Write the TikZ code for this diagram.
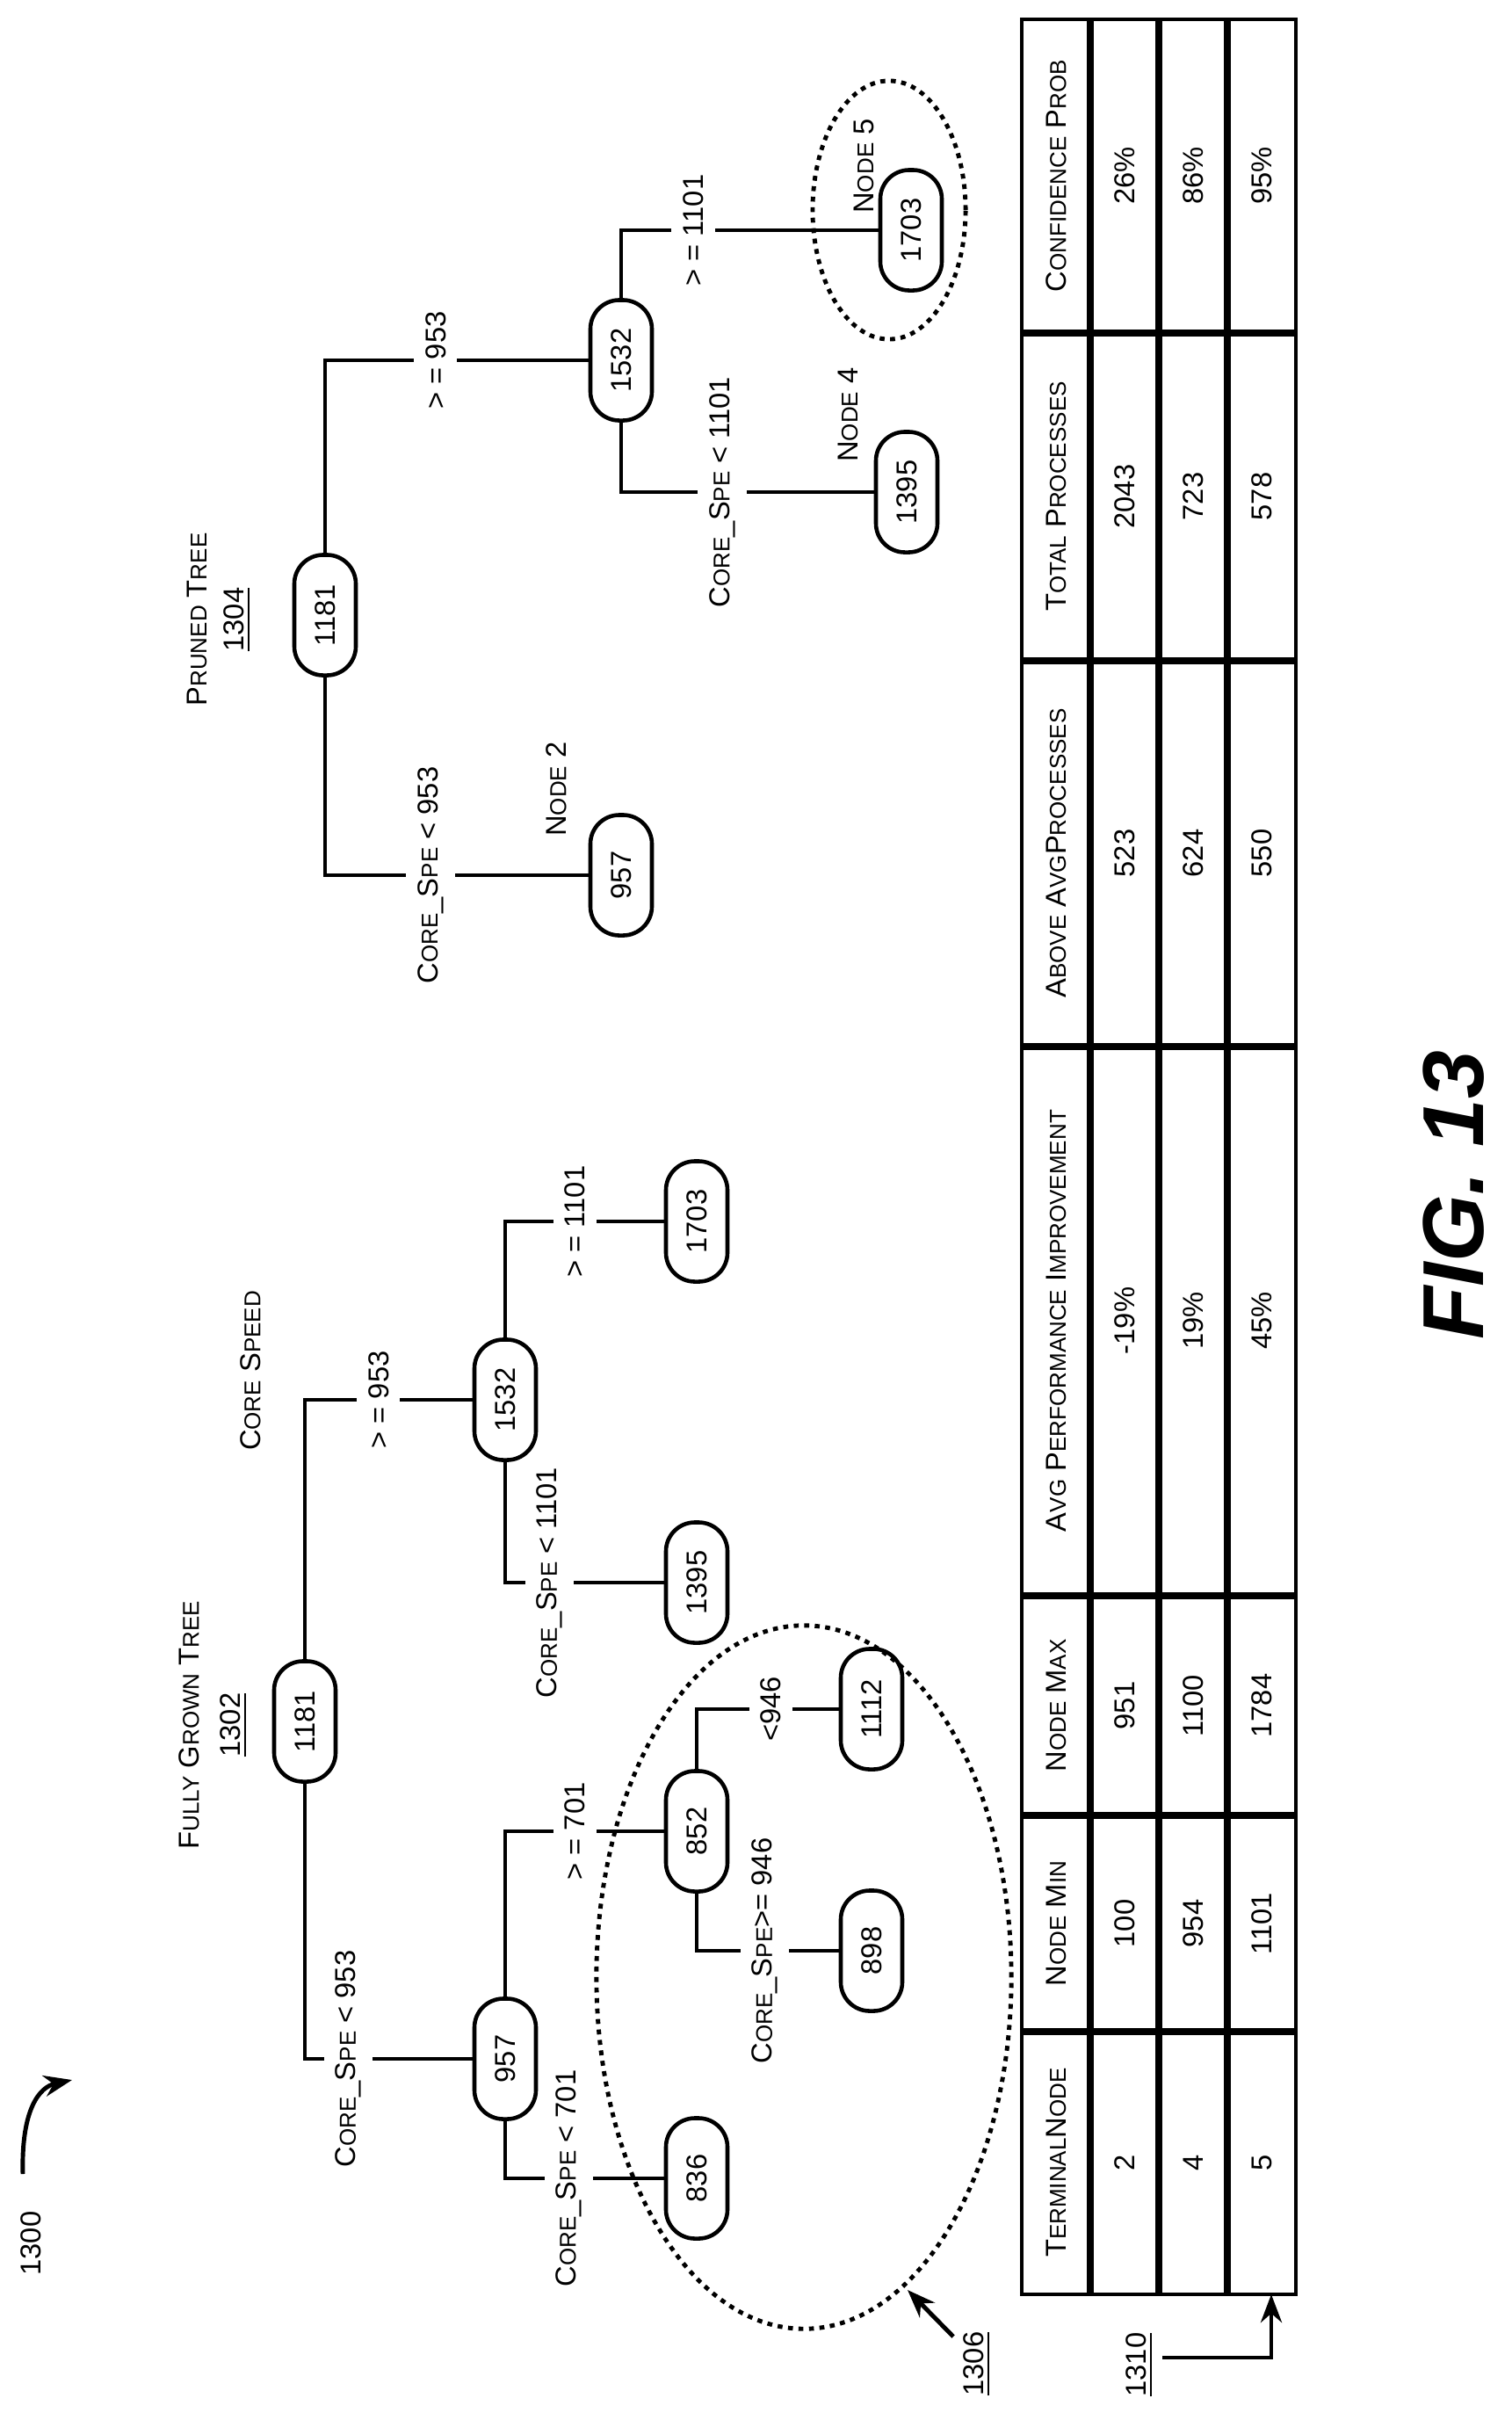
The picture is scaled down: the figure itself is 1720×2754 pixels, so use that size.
\documentclass[tikz,border=0pt]{standalone}
\usepackage{fontspec}
\setmainfont{Liberation Sans}
\usetikzlibrary{arrows.meta,shapes.geometric}
\newcommand\sC[2]{#1{\fontsize{7.4pt}{8pt}\selectfont #2}}
\newcommand\cs{\sC{C}{ORE}\_\sC{S}{PE}}
\begin{document}
\begin{tikzpicture}[x=0.01cm,y=-0.01cm, line width=1.3pt,
  every node/.style={font=\fontsize{9.3pt}{11pt}\selectfont},
  tn/.style={draw, rounded corners=0.33cm, minimum width=0.70cm, minimum height=1.37cm, inner sep=0pt},
  lab/.style={fill=white, rotate=90, inner xsep=1pt, inner ysep=0.13cm},
  txt/.style={rotate=90, inner sep=0pt},
  edge/.style={line width=1.3pt},
  dots/.style={draw, ellipse, inner sep=0pt, line width=1.4pt, dash pattern=on 1.6pt off 1.8pt},
  arr/.style={line width=1.4pt, -{Stealth[length=0.32cm,width=0.24cm]}},
  sep/.style={line width=2.2pt}]
\useasboundingbox (0,0) rectangle (1720,2754);

% ---------- Fully grown tree ----------
\node[tn] (a1181) at (347,1959) {\rotatebox{90}{1181}};
\node[tn] (a1532) at (575,1593) {\rotatebox{90}{1532}};
\node[tn] (a957)  at (575,2343) {\rotatebox{90}{957}};
\node[tn] (a1703) at (793,1390) {\rotatebox{90}{1703}};
\node[tn] (a1395) at (793,1801) {\rotatebox{90}{1395}};
\node[tn] (a852)  at (793,2084) {\rotatebox{90}{852}};
\node[tn] (a836)  at (793,2479) {\rotatebox{90}{836}};
\node[tn] (a1112) at (992,1945) {\rotatebox{90}{1112}};
\node[tn] (a898)  at (992,2220) {\rotatebox{90}{898}};

\draw[edge] (a1181) |- node[lab,pos=.72]{> = 953} (a1532);
\draw[edge] (a1181) |- node[lab,pos=.63]{\cs{} < 953} (a957);
\draw[edge] (a1532) |- node[lab,pos=.72]{> = 1101} (a1703);
\draw[edge] (a1532) |- node[lab,pos=.64]{\cs{} < 1101} (a1395);
\draw[edge] (a957) |- node[lab,pos=.72]{> = 701} (a852);
\draw[edge] (a957) |- node[lab,pos=.70]{\cs{} < 701} (a836);
\draw[edge] (a852) |- node[lab,pos=.76]{<946} (a1112);
\draw[edge] (a852) |- node[lab,pos=.74]{\cs>= 946} (a898);

\node[txt] (t1302) at (215,1963) {\sC{F}{ULLY} \sC{G}{ROWN} \sC{T}{REE}};
\node[txt] (n1302) at (266,1963) {\underline{1302}};
\node[txt] (tcs) at (285,1560) {\sC{C}{ORE} \sC{S}{PEED}};

\node[txt] (n1300) at (35,2553) {1300};
\coordinate (c1300a) at (26,2474);
\coordinate (c1300b) at (82,2367);
\draw[arr] (c1300a) .. controls (24,2400) and (45,2375) .. (c1300b);

\node[dots, minimum width=4.72cm, minimum height=8cm] (e1) at (915,2250) {};
\node[txt] (n1306) at (1112,2690) {\underline{1306}};
\coordinate (c1306a) at (1085,2659);
\coordinate (c1306b) at (1033,2606);
\draw[arr] (c1306a) -- (c1306b);

% ---------- Pruned tree ----------
\node[tn] (b1181) at (370,700) {\rotatebox{90}{1181}};
\node[tn] (b1532) at (707,410) {\rotatebox{90}{1532}};
\node[tn] (b957)  at (707,996) {\rotatebox{90}{957}};
\node[tn] (b1703) at (1037,262) {\rotatebox{90}{1703}};
\node[tn] (b1395) at (1032,560) {\rotatebox{90}{1395}};

\draw[edge] (b1181) |- node[lab,pos=.71]{> = 953} (b1532);
\draw[edge] (b1181) |- node[lab,pos=.70]{\cs{} < 953} (b957);
\draw[edge] (b1532) |- node[lab,pos=.64]{> = 1101} (b1703);
\draw[edge] (b1532) |- node[lab,pos=.70]{\cs{} < 1101} (b1395);

\node[txt] (t1304) at (224,705) {\sC{P}{RUNED} \sC{T}{REE}};
\node[txt] (n1304) at (270,705) {\underline{1304}};
\node[txt] (nd2) at (633,898) {\sC{N}{ODE} 2};
\node[txt] (nd4) at (965,472) {\sC{N}{ODE} 4};
\node[txt] (nd5) at (983,189) {\sC{N}{ODE} 5};
\node[dots, minimum width=1.74cm, minimum height=2.94cm] (e2) at (1012,239) {};

% ---------- Table ----------
\draw[line width=1.4pt] (1163,22) rectangle (1475,2611);
\foreach \x in {1241,1319,1397} \draw[sep] (\x,22) -- (\x,2611);
\foreach \y in {379,752,1191,1816,2066,2312} \draw[sep] (1163,\y) -- (1475,\y);

\node[txt] (h1) at (1202,2461) {\sC{T}{ERMINAL}\sC{N}{ODE}};
\node[txt] (h2) at (1202,2189) {\sC{N}{ODE} \sC{M}{IN}};
\node[txt] (h3) at (1202,1941) {\sC{N}{ODE} \sC{M}{AX}};
\node[txt] (h4) at (1202,1503) {\sC{A}{VG} \sC{P}{ERFORMANCE} \sC{I}{MPROVEMENT}};
\node[txt] (h5) at (1202,971) {\sC{A}{BOVE} \sC{A}{VG}\sC{P}{ROCESSES}};
\node[txt] (h6) at (1202,565) {\sC{T}{OTAL} \sC{P}{ROCESSES}};
\node[txt] (h7) at (1202,200) {\sC{C}{ONFIDENCE} \sC{P}{ROB}};

\foreach \x/\a/\b/\c/\d/\e/\f/\g in {
  1280/2/100/951/-19\%/523/2043/26\%,
  1358/4/954/1100/19\%/624/723/86\%,
  1436/5/1101/1784/45\%/550/578/95\%}{
  \node[txt] at (\x,2461) {\a};
  \node[txt] at (\x,2189) {\b};
  \node[txt] at (\x,1941) {\c};
  \node[txt] at (\x,1503) {\d};
  \node[txt] at (\x,971) {\e};
  \node[txt] at (\x,565) {\f};
  \node[txt] at (\x,200) {\g};
}

\node[txt] (n1310) at (1297,2691) {\underline{1310}};
\coordinate (c1310a) at (1323,2683);
\coordinate (c1310b) at (1447,2611);
\draw[arr] (c1310a) -| (c1310b);

\node[txt, font=\fontsize{28pt}{30pt}\selectfont\bfseries\itshape] (fig) at (1655,1360) {FIG. 13};
\end{tikzpicture}
\end{document}
